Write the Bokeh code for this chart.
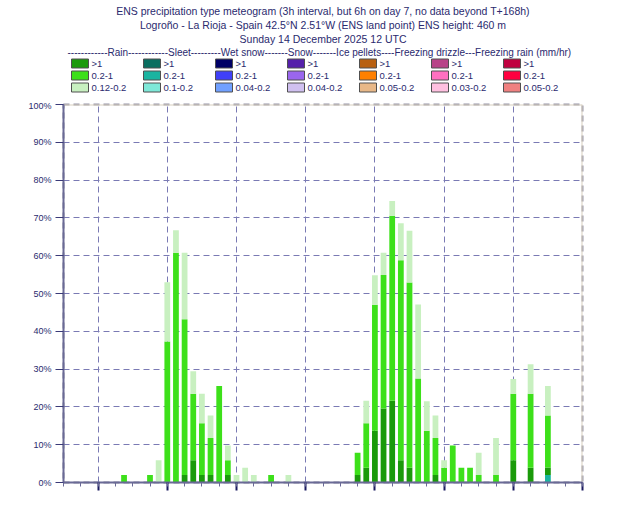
from bokeh.plotting import figure
from bokeh.models import Range1d, FixedTicker, LabelSet, ColumnDataSource, Span, CustomLabelingPolicy
from bokeh.layouts import column
from bokeh.core.properties import value
from bokeh.embed import file_html
from bokeh.resources import INLINE

# ---------------- data ----------------
title_lines = [
    "ENS precipitation type meteogram (3h interval, but 6h on day 7, no data beyond T+168h)",
    "Logroño - La Rioja - Spain 42.5°N 2.51°W (ENS land point) ENS height: 460 m",
    "Sunday 14 December 2025 12 UTC",
]
legend_header = ("------------Rain------------Sleet---------Wet snow-------Snow-------"
                 "Ice pellets----Freezing drizzle---Freezing rain (mm/hr)")
legend_ranges = [
    [">1", "0.2-1", "0.12-0.2"],
    [">1", "0.2-1", "0.1-0.2"],
    [">1", "0.2-1", "0.04-0.2"],
    [">1", "0.2-1", "0.04-0.2"],
    [">1", "0.2-1", "0.05-0.2"],
    [">1", "0.2-1", "0.03-0.2"],
    [">1", "0.2-1", "0.05-0.2"],
]
legend_colors = [
    ["#1a9a0a", "#3de01a", "#c8f0c0"],
    ["#0a6e60", "#1ab4a0", "#7ee8d8"],
    ["#000066", "#4040f8", "#70a0ff"],
    ["#5520aa", "#9a66ee", "#d0c0f0"],
    ["#b86010", "#ff8000", "#e8b888"],
    ["#b84488", "#ff70c0", "#ffc0e0"],
    ["#c00040", "#ff0040", "#f08080"],
]

# hours after Sunday 14 Dec 12 UTC
hours = [21, 30, 33, 36, 39, 42, 45, 48, 51, 54, 57, 60, 63, 66, 72, 78,
         102, 105, 108, 111, 114, 117, 120, 123, 126, 129, 132, 135, 138, 141, 144,
         150, 156, 162, 168]
sleet_mid = [0, 0, 0, 0, 0, 0, 0, 0, 0, 0, 0, 0, 0, 0, 0, 0,
             0, 0, 0, 0, 0, 0, 0, 0, 0, 0, 0, 0, 0, 0, 0,
             0, 0, 0, 2.0]
rain_heavy = [0, 0, 0, 0, 0, 2.0, 5.9, 2.0, 2.0, 0, 2.0, 0, 0, 0, 0, 0,
              2.0, 3.9, 13.7, 19.6, 21.6, 5.9, 3.9, 0, 0, 2.0, 0, 0, 0, 0, 0,
              0, 5.9, 3.9, 2.0]
rain_mid = [2.0, 2.0, 0, 37.3, 60.8, 41.2, 17.6, 13.7, 9.8, 25.5, 3.9, 0, 0, 0, 2.0, 0,
            5.9, 11.8, 33.3, 35.3, 49.0, 52.9, 49.0, 27.5, 13.7, 9.8, 3.9, 9.8, 3.9, 3.9, 2.0,
            2.0, 17.6, 19.6, 13.7]
rain_light = [0, 0, 5.9, 15.7, 5.9, 17.6, 5.9, 7.8, 5.9, 0, 3.9, 2.0, 3.9, 2.0, 0, 2.0,
              0, 5.9, 7.8, 5.9, 3.9, 9.8, 13.7, 19.6, 7.8, 5.9, 2.0, 0, 0, 0, 5.9,
              9.8, 3.9, 7.8, 7.8]

day_pos = [0, 24, 48, 72, 96, 120, 144, 168]
day_labels = ["Sun14", "Mon15", "Tue16", "Wed17", "Thu18", "Fri19", "Sat20", "Sun21"]
day_colors = ["#ff3030", "#2e2e6e", "#2e2e6e", "#2e2e6e", "#2e2e6e", "#2e2e6e", "#2e2e6e", "#ff3030"]
midnights = [12, 36, 60, 84, 108, 132, 156, 180]
y_ticks = [0, 10, 20, 30, 40, 50, 60, 70, 80, 90, 100]
y_labels = ["0%", "10%", "20%", "30%", "40%", "50%", "60%", "70%", "80%", "90%", "100%"]

FONT = value("Liberation Sans")
NAVY = "#2a2a6e"

# ---------------- header (titles + legend) ----------------
head = figure(width=630, height=100, x_range=Range1d(63, 582), y_range=Range1d(100, 0),
              x_axis_type=None, y_axis_type=None, output_backend="svg",
              toolbar_location=None, min_border=0, min_border_left=63, min_border_right=48)
head.grid.visible = False
head.outline_line_color = None
head.text(x=[322.5] * 3, y=[10, 24, 38], text=title_lines, text_align="center",
          text_baseline="middle", text_font=FONT, text_font_size="10.5px", text_color=NAVY)
head.text(x=[67], y=[52], text=[legend_header], text_align="left", text_baseline="middle",
          text_font=FONT, text_font_size="10px", text_color=NAVY)

sl, sr, st, sb, lx, ly, lt, fc = [], [], [], [], [], [], [], []
for ci, (rngs, cols) in enumerate(zip(legend_ranges, legend_colors)):
    x0 = 71 + 72 * ci
    for ri, (r, c) in enumerate(zip(rngs, cols)):
        yc = 63 + 12 * ri
        sl.append(x0); sr.append(x0 + 17); st.append(yc - 4.5); sb.append(yc + 4.5)
        fc.append(c)
        lx.append(x0 + 20); ly.append(yc); lt.append(r)
head.quad(left=sl, right=sr, top=st, bottom=sb, fill_color=fc, line_color="#505050", line_width=1)
head.text(x=lx, y=ly, text=lt, text_align="left", text_baseline="middle",
          text_font=FONT, text_font_size="9.5px", text_color=NAVY)

# ---------------- main chart ----------------
p = figure(width=630, height=425, x_range=Range1d(0, 180), y_range=Range1d(0, 100),
           output_backend="svg", toolbar_location=None,
           min_border_left=63, min_border_right=48, min_border_top=4, min_border_bottom=43)
p.background_fill_color = "white"
p.outline_line_color = "#9896a8"
p.outline_line_width = 2
p.outline_line_dash = "6 4"
p.add_layout(Span(location=100, dimension="width", line_color="#d8d0c0", line_width=2, level="underlay"))
p.add_layout(Span(location=180, dimension="height", line_color="#d8d0c0", line_width=2, level="underlay"))

src = ColumnDataSource(dict(hours=hours, sleet_mid=sleet_mid, rain_heavy=rain_heavy,
                            rain_mid=rain_mid, rain_light=rain_light))
p.vbar_stack(["sleet_mid", "rain_heavy", "rain_mid", "rain_light"], x="hours", width=2.0,
             fill_color=["#1ab4a0", "#1a9a0a", "#3de01a", "#c8f0c0"], line_color=None, source=src)

# axes
p.yaxis.ticker = FixedTicker(ticks=y_ticks)
p.yaxis.major_label_overrides = dict(zip(y_ticks, y_labels))
p.yaxis.major_tick_out = 8
p.yaxis.major_tick_in = 0
p.yaxis.minor_tick_out = 0
p.yaxis.axis_line_width = 2
p.yaxis.axis_line_color = "#6a6a96"
p.yaxis.major_tick_line_color = "#3a3a78"
p.yaxis.major_label_text_font = "Liberation Sans"
p.yaxis.major_label_text_font_size = "9px"
p.yaxis.major_label_text_color = NAVY
p.yaxis.major_label_standoff = 4

# x axis: long ticks at midnight, short 6-hourly ticks, day names placed at noon below
p.xaxis.ticker = FixedTicker(ticks=midnights, minor_ticks=list(range(0, 181, 6)))
p.xaxis.major_tick_out = 8
p.xaxis.major_tick_in = 0
p.xaxis.major_tick_line_color = "#1a1a60"
p.xaxis.major_tick_line_width = 2
p.xaxis.minor_tick_out = 4
p.xaxis.minor_tick_in = 0
p.xaxis.axis_line_width = 2
p.xaxis.axis_line_color = "#6a6a96"
p.xaxis.minor_tick_line_color = "#6a6a96"
p.xaxis.major_label_policy = CustomLabelingPolicy(code="""
for (const i of indices)
  indices.unset(i)
""")

# grids
p.xgrid.ticker = FixedTicker(ticks=midnights[:-1])
p.ygrid.ticker = FixedTicker(ticks=y_ticks[1:-1])
for g in (p.xgrid, p.ygrid):
    g.grid_line_color = "#7a7ab4"
    g.grid_line_dash = "6 4"
    g.grid_line_width = 1

lab_src = ColumnDataSource(dict(x=day_pos, y=[-4.0] * len(day_pos), text=day_labels, color=day_colors))
p.add_layout(LabelSet(x="x", y="y", text="text", source=lab_src, text_align="center",
                      text_baseline="middle", text_color="color", text_font=FONT,
                      text_font_size="9px"))

layout = column(head, p, spacing=0)
open("out.html", "w").write(file_html(layout, INLINE))
